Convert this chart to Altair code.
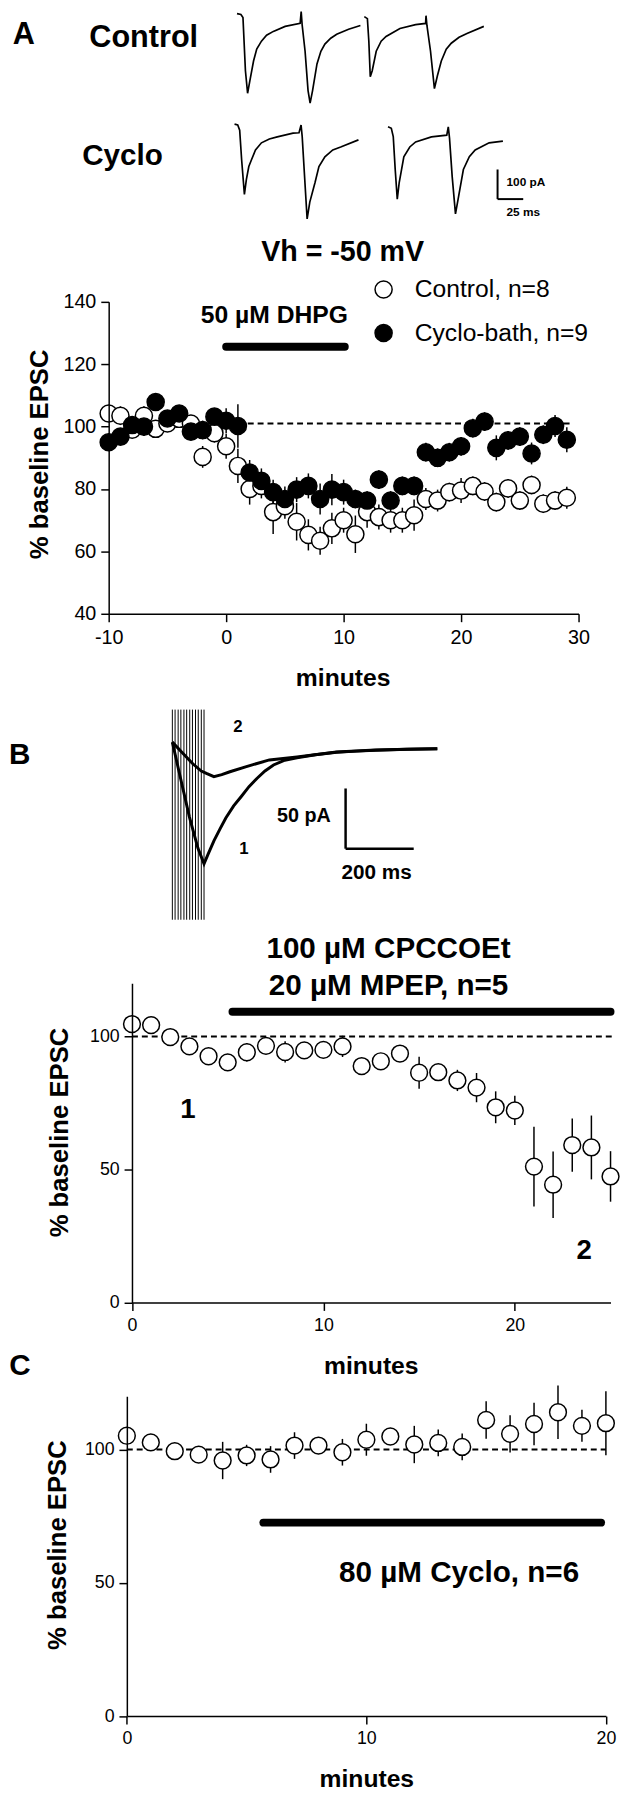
import altair as alt
import pandas as pd

FONT = "Liberation Sans"
W, H = 621, 1792

# ---------------- Panel A: time course ----------------
minutes_a = list(range(-10, 30))
control_mean = [104.2, 103.5, 99, 103.5, 99.3, 101, 102.5, 101, 90.3, 97.9,
                93.7, 87.4, 80, 81, 72.6, 74.5, 69.5, 65.3, 63.4, 67.4,
                70, 65.5, 72.6, 71, 70, 70, 71.6, 76.8, 76.3, 79,
                79.5, 81, 79.2, 75.8, 80.2, 76.3, 81.3, 75.3, 76.3, 77.2]
control_sem = [2, 3, 2, 3, 2, 2, 2, 2, 3.5, 3,
               4, 5.5, 5, 4, 7, 4, 6, 5, 4.5, 5,
               4, 6, 5, 4, 4, 4, 5, 3.5, 3.5, 3,
               4, 3, 3, 3, 3, 3, 3, 3, 3, 3.5]
cyclo_mean = [95, 96.8, 100.5, 100, 107.9, 102.6, 104.2, 98.4, 98.9, 103.2,
              101.9, 100.2, 85.3, 82.6, 79, 76.8, 79.8, 81, 76.8, 79.8,
              79, 76.8, 76.3, 83, 76.3, 81, 81, 91.8, 90, 91.8,
              93.7, 99.5, 101.6, 93.2, 95.6, 96.8, 91.4, 97.4, 100.2, 95.8]
cyclo_sem = [2, 2, 2, 3, 2, 2, 2, 2, 3, 2,
             4, 7, 4, 4, 4, 4, 4, 4, 5, 5,
             4, 3, 3, 3, 3, 3, 3, 3, 3, 3,
             3, 3, 3, 4, 3, 3, 3.5, 3, 3.5, 4]
series_names = ["Control, n=8", "Cyclo-bath, n=9"]

# ---------------- Panel B: time course ----------------
minutes_b = list(range(0, 26))
mglur_mean = [104.7, 104.3, 99.8, 96.3, 92.6, 90.3, 94.1, 96.5, 94.2, 94.8,
              95, 96.3, 88.9, 90.7, 93.6, 86.4, 86.6, 83.5, 80.8, 73.4,
              72.2, 51.1, 44.3, 59.2, 58.3, 47.4]
mglur_sem = [1, 1, 1, 1, 1, 1, 3.5, 2.5, 4, 2,
             2.5, 4, 2.5, 3, 1.5, 6, 3, 4, 5.5, 6,
             5.5, 15, 12.5, 10, 12, 9.5]

# ---------------- Panel C: time course ----------------
minutes_c = list(range(0, 21))
cyclo80_mean = [105.2, 102.7, 99.4, 98.1, 95.9, 97.8, 96.3, 101.5, 101.5, 99,
                103.7, 104.9, 101.9, 102.5, 101, 111.1, 105.9, 109.6, 114, 108.9, 109.9]
cyclo80_sem = [1, 1, 1, 1, 7, 4, 5, 5, 3, 5,
               6, 3, 7, 5, 5, 7, 7, 8, 10, 6, 12]

# ---------------- Example traces, panel A (ms, pA) ----------------
ctrl_s1_t = [0, 3.8, 5.8, 8.2, 10.3, 12.5, 16.1, 19.2, 23.8, 28.8, 35.4, 46.9, 61.5,
             62.5, 63.5, 66.3, 69.2, 71.2, 73.6, 77.9, 81.7, 85.6, 91.3, 97.1, 108.7, 120.2]
ctrl_s1_pa = [0, -3, -13, -193, -269, -227, -160, -120, -93, -73, -60, -43, -33,
              7, -40, -127, -260, -302, -260, -170, -127, -103, -83, -70, -53, -40]
ctrl_s2_t = [124, 127, 128.4, 129.8, 131.7, 135.6, 140.4, 145.2, 158.7, 174, 183.7,
             184.1, 185, 188.5, 192.3, 195.2, 199, 203.8, 208.7, 216.3, 224, 240.4]
ctrl_s2_pa = [-10, -17, -93, -213, -193, -127, -93, -77, -50, -37, -33,
              -7, -40, -127, -253, -210, -160, -120, -100, -80, -67, -43]
cyc_s1_t = [-2.4, 0.7, 2.6, 4.5, 7.2, 9.1, 11.5, 14.1, 18, 23.8, 31.5, 39.2, 54.6,
            60.4, 62.4, 63.5, 65.4, 68.3, 70.9, 76, 79.8, 85.6, 93.3, 101, 118.3]
cyc_s1_pa = [0, -3, -20, -120, -237, -187, -143, -120, -87, -63, -50, -43, -30,
             -29, -3, -42, -153, -320, -263, -197, -143, -110, -87, -77, -53]
cyc_s2_t = [147.1, 150.3, 152.2, 154.1, 156.1, 158, 162.5, 168.3, 174, 189.4, 204.3,
            205.8, 207, 209.6, 212.8, 215.9, 220.5, 226.3, 232, 245.6, 259]
cyc_s2_pa = [-9, -14, -42, -153, -253, -197, -110, -77, -60, -43, -37,
             -9, -47, -177, -303, -243, -153, -110, -87, -63, -57]

# ---------------- Example traces, panel B (ms, pA) ----------------
tr1_t = [0, 20, 50, 75, 93, 105, 122, 140, 157, 180, 203, 225, 249, 272, 297, 330,
         366, 420, 482, 540, 597, 690, 778]
tr1_pa = [0, -25, -62, -88, -101, -93, -82, -72, -63, -53, -45, -37, -30, -24, -19, -15,
          -13, -10.5, -8.5, -7.5, -6.8, -6, -5.5]
tr2_t = [0, 30, 60, 85, 100, 122, 145, 169, 215, 285, 366, 482, 597, 690, 778]
tr2_pa = [0, -9, -18, -24, -26, -28.7, -27, -24.6, -20.5, -14.8, -12.3, -8.2, -6.6, -6, -5.5]
stim_t = [0, 8, 17, 25, 34, 42, 51, 59, 68, 76, 85, 93]


# ---------------- helpers ----------------
def S(domain, rng):
    return alt.Scale(domain=domain, range=rng, nice=False, zero=False, clamp=False)


def y_axis(offset, tx, ty, values, lsize):
    return alt.Axis(orient="left", offset=offset, values=values, title="% baseline EPSC",
                    titleX=tx, titleY=ty, titleAngle=270, titleAlign="center",
                    titleBaseline="middle", titleFont=FONT, titleFontSize=26,
                    titleFontWeight="bold", titleColor="black",
                    labelFont=FONT, labelFontSize=lsize, labelColor="black", labelPadding=5,
                    labelExpr="'' + datum.value",
                    tickSize=8, tickColor="black", tickWidth=1.5,
                    domainColor="black", domainWidth=1.5, grid=False, zindex=1)


def x_axis(offset, tx, ty, values, lsize):
    return alt.Axis(orient="bottom", offset=offset, values=values, title="minutes",
                    titleX=tx, titleY=ty, titleAngle=0, titleAlign="center",
                    titleBaseline="middle", titleFont=FONT, titleFontSize=25,
                    titleFontWeight="bold", titleColor="black",
                    labelFont=FONT, labelFontSize=lsize, labelColor="black", labelPadding=6,
                    labelExpr="'' + datum.value", labelFlush=False,
                    tickSize=8, tickColor="black", tickWidth=1.5,
                    domainColor="black", domainWidth=1.5, grid=False, zindex=1)


def text_layer(df, sx, sy, size, weight="bold", align="center"):
    return alt.Chart(df).mark_text(font=FONT, fontSize=size, fontWeight=weight,
                                   align=align, baseline="middle", color="black").encode(
        x=alt.X("x:Q", scale=sx, axis=None),
        y=alt.Y("y:Q", scale=sy, axis=None),
        text="label:N")


def seg_layer(df, sx, sy, width, cap="butt", dash=None):
    kw = dict(color="black", strokeWidth=width, strokeCap=cap)
    if dash:
        kw["strokeDash"] = dash
    return alt.Chart(df).mark_rule(**kw).encode(
        x=alt.X("x0:Q", scale=sx, axis=None), x2="x1:Q",
        y=alt.Y("y0:Q", scale=sy, axis=None), y2="y1:Q")


def timecourse(df_pts, sx, sy, xaxis, yaxis, dash_df, bar_df, filled_series=False):
    base = alt.Chart(df_pts).transform_calculate(
        lo="datum.mean - datum.sem", hi="datum.mean + datum.sem")
    err = base.mark_rule(color="black", strokeWidth=1.5).encode(
        x=alt.X("minute:Q", scale=sx, axis=None),
        y=alt.Y("lo:Q", scale=sy, axis=None),
        y2="hi:Q")
    dash = seg_layer(dash_df, sx, sy, 2, dash=[6, 4])
    bar = seg_layer(bar_df, sx, sy, 8, cap="round")
    if not filled_series:
        pts = base.mark_point(shape="circle", filled=True, fill="white", stroke="black",
                              strokeWidth=1.5, size=290, opacity=1).encode(
            x=alt.X("minute:Q", scale=sx, axis=xaxis),
            y=alt.Y("mean:Q", scale=sy, axis=yaxis))
    else:
        pts = base.mark_point(shape="circle", filled=True, stroke="black",
                              strokeWidth=1.5, size=300, opacity=1).encode(
            x=alt.X("minute:Q", scale=sx, axis=xaxis),
            y=alt.Y("mean:Q", scale=sy, axis=yaxis),
            fill=alt.Fill("series:N",
                          scale=alt.Scale(domain=series_names, range=["white", "black"]),
                          legend=alt.Legend(orient="none", legendX=368, legendY=261,
                                            title=None, padding=0,
                                            labelFont=FONT, labelFontSize=25,
                                            labelColor="black", labelOffset=19,
                                            labelLimit=400,
                                            rowPadding=18, symbolSize=300,
                                            symbolType="circle",
                                            symbolStrokeColor="black",
                                            symbolStrokeWidth=1.5)))
    return [dash, bar, err, pts]


def seg_df(x0, x1, y0, y1):
    return pd.DataFrame({"x0": x0, "x1": x1, "y0": y0, "y1": y1})


# ---------------- Panel A plot ----------------
sxA = S([-10, 30], [102, 578])
syA = S([40, 140], [602, 286])
dfA = pd.DataFrame({
    "minute": minutes_a + minutes_a,
    "mean": control_mean + cyclo_mean,
    "sem": control_sem + cyclo_sem,
    "series": [series_names[0]] * len(minutes_a) + [series_names[1]] * len(minutes_a),
})
layersA = timecourse(
    dfA, sxA, syA,
    x_axis(602 - H, 339, 65, [-10, 0, 10, 20, 30], 20),
    y_axis(-102, -70, 440, [40, 60, 80, 100, 120, 140], 20),
    seg_df([1], [29.5], [101], [101]),
    seg_df([0], [10.1], [125.6], [125.6]),
    filled_series=True)
layersA.append(text_layer(pd.DataFrame({"x": [4.1], "y": [135.9], "label": ["50 µM DHPG"]}),
                          sxA, syA, 25))

# ---------------- Panel A traces ----------------
sxTA = S([0, 250], [232, 492])
syCtrl = S([-300, 0], [84, -6])
syCyc = S([-300, 0], [196, 106])
df_ctrl = pd.DataFrame({"t": ctrl_s1_t + ctrl_s2_t, "pA": ctrl_s1_pa + ctrl_s2_pa,
                        "sweep": ["s1"] * len(ctrl_s1_t) + ["s2"] * len(ctrl_s2_t)})
df_cyc = pd.DataFrame({"t": cyc_s1_t + cyc_s2_t, "pA": cyc_s1_pa + cyc_s2_pa,
                       "sweep": ["s1"] * len(cyc_s1_t) + ["s2"] * len(cyc_s2_t)})


def trace_line(df, sx, sy, width=1.7):
    return alt.Chart(df).mark_line(color="black", strokeWidth=width).encode(
        x=alt.X("t:Q", scale=sx, axis=None),
        y=alt.Y("pA:Q", scale=sy, axis=None),
        detail="sweep:N", order="t:Q")


bar_t0, bar_i0, bar_ms, bar_pa = 253.8, -253, 25, 100
layersTA = [
    trace_line(df_ctrl, sxTA, syCtrl),
    text_layer(pd.DataFrame({"x": [-207.7, -90.9], "y": [-73, -81.7],
                             "label": ["A", "Control"]}), sxTA, syCtrl, 31),
    trace_line(df_cyc, sxTA, syCyc),
    seg_layer(seg_df([bar_t0, bar_t0], [bar_t0, bar_t0 + bar_ms],
                     [bar_i0, bar_i0], [bar_i0 + bar_pa, bar_i0]), sxTA, syCyc, 2),
    text_layer(pd.DataFrame({"x": [-111.5], "y": [-108.3], "label": ["Cyclo"]}),
               sxTA, syCyc, 30),
    text_layer(pd.DataFrame({"x": [102.9], "y": [-433], "label": ["Vh = -50 mV"]}),
               sxTA, syCyc, 29),
    text_layer(pd.DataFrame({"x": [262.5, 262.5], "y": [-196.7, -296.7],
                             "label": ["100 pA", "25 ms"]}), sxTA, syCyc, 12,
               align="left"),
]

# ---------------- Panel B traces ----------------
sxTB = S([0, 800], [166.5, 442.5])
syTB = S([-150, 30], [915, 695.4])
df_trB = pd.DataFrame({"t": tr1_t + tr2_t, "pA": tr1_pa + tr2_pa,
                       "sweep": ["1"] * len(tr1_t) + ["2"] * len(tr2_t)})
df_stim = pd.DataFrame({"t": stim_t, "lo": [-147.5] * len(stim_t), "hi": [27] * len(stim_t)})
sb_t0, sb_i0, sb_ms, sb_pa = 508.7, -88.5, 200, 50
layersTB = [
    alt.Chart(df_stim).mark_rule(color="black", strokeWidth=1).encode(
        x=alt.X("t:Q", scale=sxTB, axis=None),
        y=alt.Y("lo:Q", scale=syTB, axis=None), y2="hi:Q"),
    trace_line(df_trB, sxTB, syTB, width=3),
    seg_layer(seg_df([sb_t0, sb_t0], [sb_t0, sb_t0 + sb_ms],
                     [sb_i0, sb_i0], [sb_i0 + sb_pa, sb_i0]), sxTB, syTB, 2.5),
    text_layer(pd.DataFrame({"x": [-448], "y": [-10.7], "label": ["B"]}), sxTB, syTB, 30),
    text_layer(pd.DataFrame({"x": [192.8, 210.1], "y": [12.3, -88.5], "label": ["2", "1"]}),
               sxTB, syTB, 17),
    text_layer(pd.DataFrame({"x": [465.2], "y": [-61.5], "label": ["50 pA"]}),
               sxTB, syTB, 20, align="right"),
    text_layer(pd.DataFrame({"x": [600], "y": [-109], "label": ["200 ms"]}),
               sxTB, syTB, 21),
]

# ---------------- Panel B plot ----------------
sxB = S([0, 25], [125.6, 610.4])
syB = S([0, 120], [1299.7, 976.4])
dfB = pd.DataFrame({"minute": minutes_b, "mean": mglur_mean, "sem": mglur_sem})
layersB = timecourse(
    dfB, sxB, syB,
    x_axis(1299.7 - H, 367.5, 64.3, [0, 10, 20], 18),
    y_axis(-125.6, -73.6, 1127, [0, 50, 100], 18),
    seg_df([0], [25.2], [100], [100]),
    seg_df([5.25], [25], [109.3], [109.3]))
layersB.append(text_layer(pd.DataFrame({"x": [13.4, 13.4], "y": [132.8, 119.0],
                                        "label": ["100 µM CPCCOEt", "20 µM MPEP, n=5"]}),
                          sxB, syB, 30))
layersB.append(text_layer(pd.DataFrame({"x": [2.92, 23.62], "y": [72.3, 19.5],
                                        "label": ["1", "2"]}), sxB, syB, 28))

# ---------------- Panel C plot ----------------
sxC = S([0, 20], [120.4, 605.7])
syC = S([0, 120], [1718.7, 1394.7])
dfC = pd.DataFrame({"minute": minutes_c, "mean": cyclo80_mean, "sem": cyclo80_sem})
layersC = timecourse(
    dfC, sxC, syC,
    x_axis(1718.7 - H, 363, 63.3, [0, 10, 20], 18),
    y_axis(-120.4, -70.4, 1545, [0, 50, 100], 18),
    seg_df([0], [20], [100], [100]),
    seg_df([5.7], [19.8], [72.6], [72.6]))
layersC.append(text_layer(pd.DataFrame({"x": [13.87], "y": [53.7],
                                        "label": ["80 µM Cyclo, n=6"]}), sxC, syC, 30))
layersC.append(text_layer(pd.DataFrame({"x": [-4.46], "y": [131.4], "label": ["C"]}),
                          sxC, syC, 30))

all_layers = layersTA + layersA + layersTB + layersB + layersC
chart = alt.layer(*all_layers).resolve_scale(
    x="independent", y="independent").resolve_axis(
    x="independent", y="independent").properties(
    width=W, height=H, autosize=alt.AutoSizeParams(type="none"), padding=0,
    background="white").configure_view(stroke=None)

chart.save("out.html", embed_options={"renderer": "svg", "actions": False})
